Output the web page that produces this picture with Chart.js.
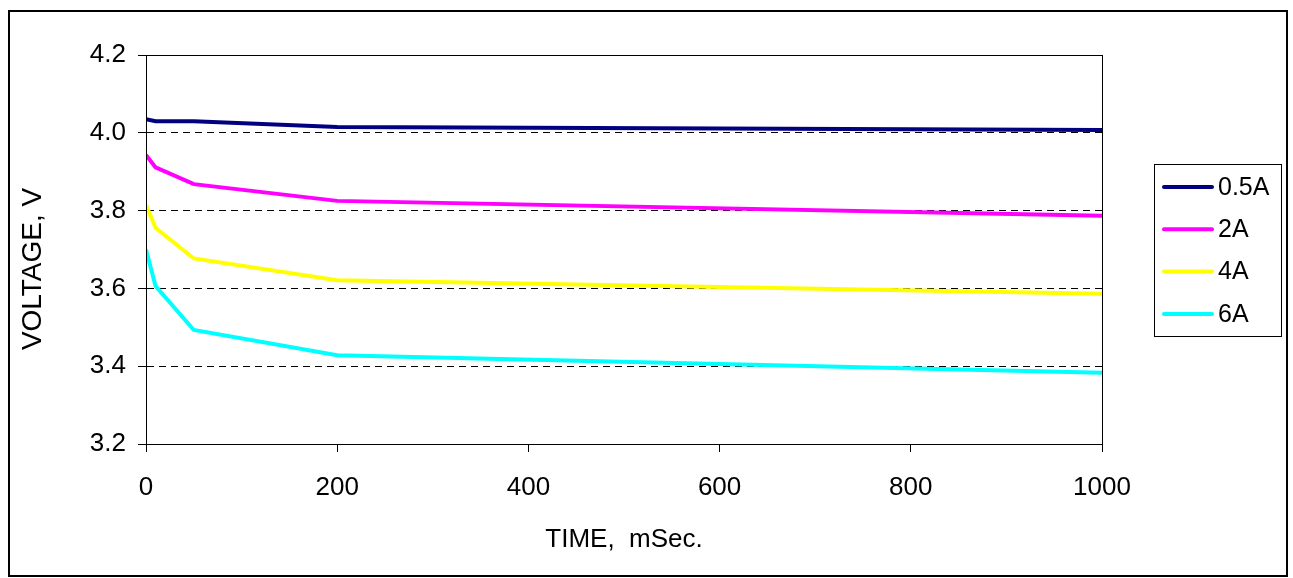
<!DOCTYPE html>
<html>
<head>
<meta charset="utf-8">
<script src="https://cdn.jsdelivr.net/npm/chart.js@4.4.1/dist/chart.umd.min.js"></script>
<style>
  body { margin: 0; background: #fff; }
  #wrap { width: 1293px; height: 578px; position: relative; }
</style>
</head>
<body>
<div id="wrap"><canvas id="chart" width="1293" height="578"></canvas></div>
<script>
// time points, mSec
var times = [0, 10, 50, 200, 1000];
var labels = ['0.5A', '2A', '4A', '6A'];
var colors = ['#000080', '#FF00FF', '#FFFF00', '#00FFFF'];
// voltage per series
var v05 = [4.035, 4.030, 4.030, 4.015, 4.007];
var v2  = [3.943, 3.911, 3.868, 3.825, 3.787];
var v4  = [3.814, 3.756, 3.677, 3.621, 3.586];
var v6  = [3.700, 3.606, 3.493, 3.428, 3.383];
var yTicks = [3.2, 3.4, 3.6, 3.8, 4.0, 4.2];
var xTicks = [0, 200, 400, 600, 800, 1000];

var FONT = 'Liberation Sans, Arial, sans-serif';

function pts(vals) {
  return times.map(function (t, i) { return { x: t, y: vals[i] }; });
}

var series = [v05, v2, v4, v6];
var datasets = series.map(function (vals, i) {
  return {
    label: labels[i],
    data: pts(vals),
    borderColor: colors[i],
    backgroundColor: colors[i],
    borderWidth: 4,
    pointRadius: 0,
    tension: 0,
    fill: false
  };
});

// page frame, plot border and Excel-like legend
var frame = {
  id: 'frame',
  afterDraw: function (chart) {
    var ctx = chart.ctx, a = chart.chartArea;
    ctx.save();
    ctx.strokeStyle = '#000';
    ctx.lineWidth = 2;
    ctx.strokeRect(9, 11, 1278, 565);
    ctx.lineWidth = 1;
    ctx.strokeRect(a.left + 0.5, a.top + 0.5, a.right - a.left, a.bottom - a.top);

    // legend
    var lx = 1154, ly = 164, lw = 127, lh = 172;
    ctx.strokeRect(lx + 0.5, ly + 0.5, lw, lh);
    ctx.font = '25px ' + FONT;
    ctx.textBaseline = 'middle';
    ctx.textAlign = 'left';
    chart.data.datasets.forEach(function (ds, i) {
      var y = ly + 23 + i * 42.3;
      ctx.strokeStyle = ds.borderColor;
      ctx.lineWidth = 4;
      ctx.lineCap = 'round';
      ctx.beginPath();
      ctx.moveTo(lx + 10, y);
      ctx.lineTo(lx + 58, y);
      ctx.stroke();
      ctx.fillStyle = '#000';
      ctx.fillText(ds.label, lx + 64, y + 1);
    });
    ctx.restore();
  }
};

new Chart(document.getElementById('chart'), {
  type: 'line',
  data: { datasets: datasets },
  plugins: [frame],
  options: {
    responsive: false,
    animation: false,
    layout: { padding: { left: 0, top: 55, right: 191, bottom: 0 } },
    plugins: {
      legend: { display: false },
      tooltip: { enabled: false }
    },
    scales: {
      x: {
        type: 'linear',
        min: 0,
        max: 1000,
        afterFit: function (s) { s.height = 134; },
        afterBuildTicks: function (s) { s.ticks = xTicks.map(function (v) { return { value: v }; }); },
        ticks: {
          color: '#000',
          padding: 20,
          maxRotation: 0,
          font: { family: FONT, size: 26 },
          callback: function (v) { return String(v); }
        },
        grid: { drawOnChartArea: false, drawTicks: true, tickLength: 8, color: '#000', tickColor: '#000' },
        border: { display: true, color: '#000', width: 1 },
        title: {
          display: true,
          text: 'TIME,  mSec.',
          color: '#000',
          font: { family: FONT, size: 26 },
          padding: { top: 23, bottom: 23 }
        }
      },
      y: {
        min: 3.2,
        max: 4.2,
        afterFit: function (s) { s.width = 146; },
        afterBuildTicks: function (s) { s.ticks = yTicks.map(function (v) { return { value: v }; }); },
        ticks: {
          color: '#000',
          padding: 12,
          font: { family: FONT, size: 26 },
          callback: function (v) { return Number(v).toFixed(1); }
        },
        grid: {
          drawTicks: true,
          tickLength: 8,
          tickColor: '#000',
          color: function (c) {
            var v = c.tick ? c.tick.value : 0;
            return (v > 3.25 && v < 4.15) ? '#000' : 'rgba(0,0,0,0)';
          }
        },
        border: { display: true, color: '#000', width: 1, dash: [7, 5] },
        title: {
          display: true,
          // trailing spaces push the visible text down, as in the original
          text: 'VOLTAGE, V     ',
          color: '#000',
          font: { family: FONT, size: 28 },
          padding: { top: 16, bottom: 16 }
        }
      }
    }
  }
});
</script>
</body>
</html>
